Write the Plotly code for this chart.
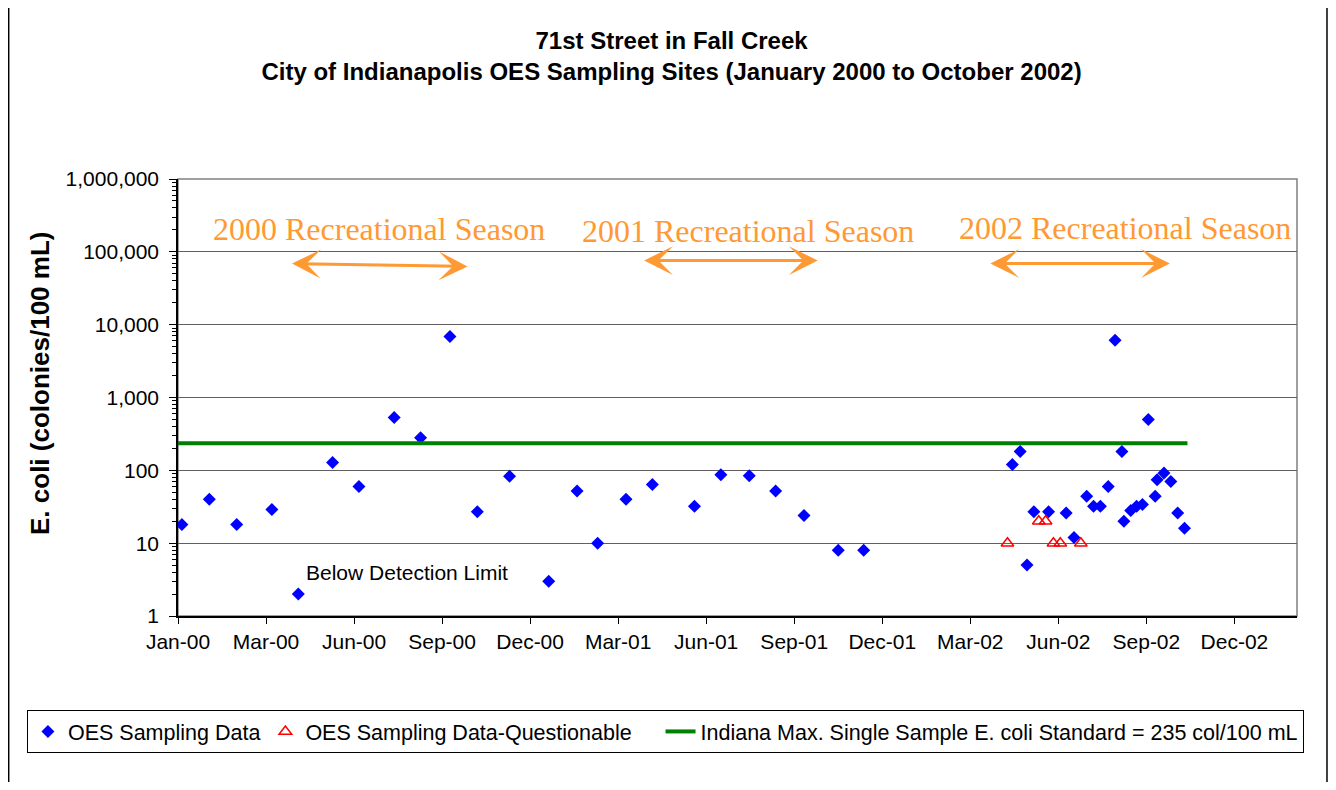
import pandas as pd
import plotly.graph_objects as go

# ---------------- data ----------------
oes_dates = [
    "2000-01-05", "2000-02-02", "2000-03-01", "2000-04-06", "2000-05-03", "2000-06-07",
    "2000-07-04", "2000-08-09", "2000-09-05", "2000-10-05", "2000-11-02", "2000-12-05",
    "2001-01-14", "2001-02-12", "2001-03-05", "2001-04-03", "2001-04-30", "2001-06-12",
    "2001-07-09", "2001-08-07", "2001-09-03", "2001-10-02", "2001-11-06", "2001-12-02",
    "2002-05-03", "2002-05-11", "2002-05-18", "2002-05-25", "2002-06-09", "2002-06-27",
    "2002-07-05", "2002-07-18", "2002-07-25", "2002-08-01", "2002-08-09", "2002-08-16",
    "2002-08-23", "2002-08-25", "2002-09-01", "2002-09-07", "2002-09-13", "2002-09-19",
    "2002-09-26", "2002-09-28", "2002-10-05", "2002-10-12", "2002-10-19", "2002-10-26",
]
oes_values = [
    18, 40, 18, 29, 2, 128,
    60, 530, 280, 6900, 27, 83,
    3, 52, 10, 40, 64, 32,
    87, 84, 52, 24, 8, 8,
    120, 182, 5, 27, 27, 26,
    12, 44, 32, 32, 60, 6100,
    182, 20, 28, 32, 34, 500,
    44, 74, 92, 70, 26, 16,
]

quest_dates = ["2002-04-28", "2002-05-30", "2002-06-06", "2002-06-14", "2002-06-21", "2002-07-12"]
quest_values = [10, 20, 20, 10, 10, 10]

std_dates = ["2000-01-01", "2002-10-29"]
std_values = [235, 235]

x_tick_labels = ["Jan-00", "Mar-00", "Jun-00", "Sep-00", "Dec-00", "Mar-01", "Jun-01",
                 "Sep-01", "Dec-01", "Mar-02", "Jun-02", "Sep-02", "Dec-02"]
y_tick_vals = [1, 10, 100, 1000, 10000, 100000, 1000000]
y_tick_text = ["1", "10", "100", "1,000", "10,000", "100,000", "1,000,000"]

seasons = ["2000 Recreational Season", "2001 Recreational Season", "2002 Recreational Season"]
season_text_x = ["2000-07-24", "2001-08-06", "2002-08-26"]
season_text_logy = [5.31, 5.28, 5.33]
season_start = ["2000-04-25", "2001-04-20", "2002-04-09"]
season_end = ["2000-10-23", "2001-10-16", "2002-10-11"]
season_arrow_logy_start = [4.84, 4.88, 4.84]
season_arrow_logy_end = [4.80, 4.88, 4.84]

# ---------------- figure ----------------
FONT = "Liberation Sans, Arial, sans-serif"
SERIF = "Liberation Serif, Times New Roman, serif"
ORANGE = "#FF9933"
PAD = "&nbsp;" * 4

tick_dates = pd.date_range("2000-01-01", periods=len(x_tick_labels), freq="90D")

fig = go.Figure()
fig.add_trace(go.Scatter(
    x=oes_dates, y=oes_values, mode="markers", name="OES Sampling Data",
    marker=dict(symbol="diamond", size=10, color="#0000FF", line=dict(width=0)),
))
fig.add_trace(go.Scatter(
    x=quest_dates, y=quest_values, mode="markers", name="OES Sampling Data-Questionable" + PAD,
    marker=dict(symbol="triangle-up-open", size=11, color="#FF0000", line=dict(width=1.5, color="#FF0000")),
))
fig.add_trace(go.Scatter(
    x=std_dates, y=std_values, mode="lines",
    name="Indiana Max. Single Sample E. coli Standard = 235 col/100 mL",
    line=dict(color="#008000", width=4),
))

annotations = []
for txt, tx, ty in zip(seasons, season_text_x, season_text_logy):
    annotations.append(dict(
        x=tx, y=ty, xref="x", yref="y", text=txt, showarrow=False,
        font=dict(family=SERIF, size=32, color=ORANGE), xanchor="center", yanchor="middle",
    ))
for s, e, ys, ye in zip(season_start, season_end, season_arrow_logy_start, season_arrow_logy_end):
    annotations.append(dict(
        x=e, y=ye, ax=s, ay=ys, xref="x", yref="y", axref="x", ayref="y", text="",
        showarrow=True, arrowside="end+start", arrowhead=3, arrowsize=1.6,
        arrowwidth=3, arrowcolor=ORANGE, standoff=0, startstandoff=0,
    ))
annotations.append(dict(
    x="2000-08-22", y=0.60, xref="x", yref="y", text="Below Detection Limit",
    showarrow=False, font=dict(family=FONT, size=21, color="black"),
    xanchor="center", yanchor="middle",
))
annotations.append(dict(
    x=-0.1233, y=0.531, xref="paper", yref="paper", text="<b>E. coli (colonies/100 mL)</b>",
    textangle=-90, showarrow=False, font=dict(family=FONT, size=26, color="black"),
    xanchor="center", yanchor="middle",
))

fig.update_layout(
    width=1320, height=774,
    margin=dict(l=170, r=31, t=171, b=166, autoexpand=False),
    paper_bgcolor="white", plot_bgcolor="white",
    title=dict(
        text="<b>71st Street in Fall Creek<br>City of Indianapolis OES Sampling Sites (January 2000 to October 2002)</b>",
        x=0.5027, xref="container", xanchor="center", y=0.947, yref="container", yanchor="top",
        font=dict(family=FONT, size=24, color="black"),
    ),
    showlegend=True,
    legend=dict(
        orientation="h", xref="paper", yref="paper",
        x=-0.135, xanchor="left", y=-0.215, yanchor="top",
        font=dict(family=FONT, size=21.5, color="black"),
        bordercolor="black", borderwidth=1, bgcolor="white",
        traceorder="normal",
    ),
    annotations=annotations,
    shapes=[
        dict(type="rect", xref="paper", yref="paper", x0=0, x1=1, y0=0, y1=1,
             line=dict(color="#808080", width=1.5), layer="below"),
        dict(type="line", xref="paper", yref="paper", x0=-0.1513, x1=-0.1513, y0=-0.6, y1=1.6,
             line=dict(color="black", width=1.5), layer="below"),
        dict(type="line", xref="paper", yref="paper", x0=1.0268, x1=1.0268, y0=-0.6, y1=1.6,
             line=dict(color="black", width=1.5), layer="below"),
    ],
)

fig.update_xaxes(
    type="date", range=["2000-01-01", "2003-02-18"],
    tickvals=tick_dates, ticktext=x_tick_labels,
    ticks="outside", ticklen=6, tickcolor="black", tickwidth=1,
    showline=True, linecolor="black", linewidth=1.5,
    showgrid=False, zeroline=False,
    tickfont=dict(family=FONT, size=21, color="black"),
)
fig.update_yaxes(
    type="log", range=[0, 6],
    tickvals=y_tick_vals, ticktext=y_tick_text,
    ticks="outside", ticklen=7, tickcolor="black", tickwidth=1,
    minor=dict(ticks="outside", ticklen=4, tickcolor="black", dtick="D1", showgrid=False),
    showline=True, linecolor="black", linewidth=1.5,
    showgrid=True, gridcolor="#606060", gridwidth=1,
    zeroline=False, ticklabelstandoff=6,
    tickfont=dict(family=FONT, size=21, color="black"),
)

fig.write_html("out.html")
